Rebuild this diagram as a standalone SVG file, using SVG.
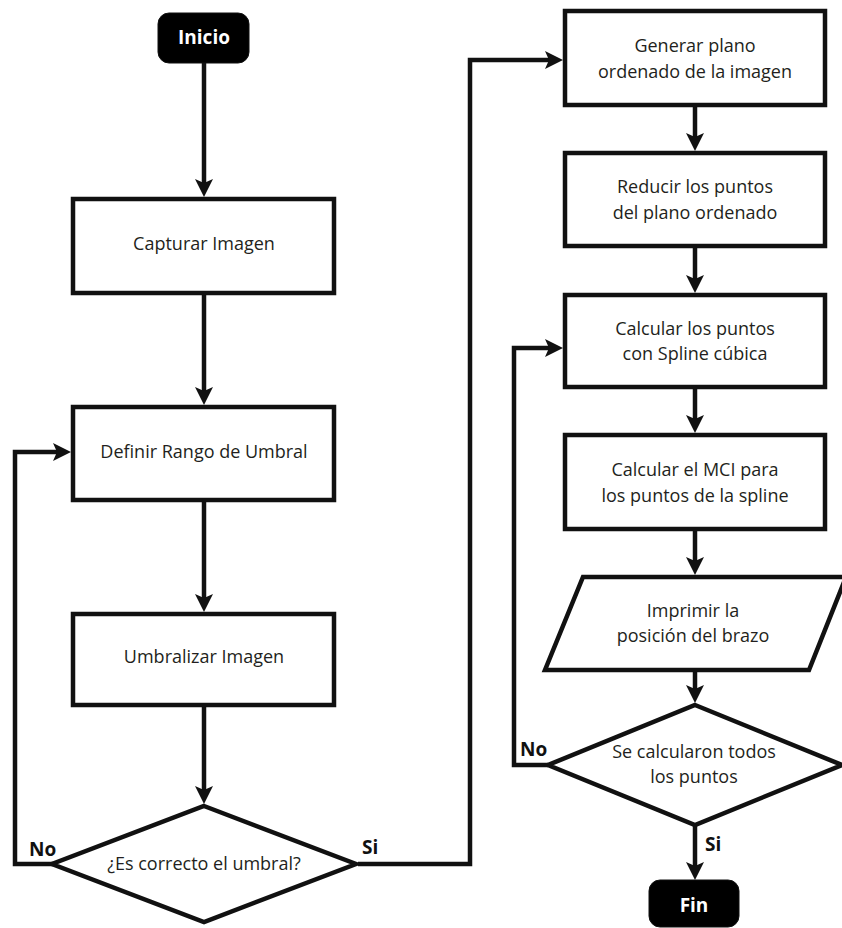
<svg xmlns="http://www.w3.org/2000/svg" width="842" height="928" viewBox="0 0 842 928">
<style>
.box{fill:#fff;stroke:#111;stroke-width:4.5;stroke-linejoin:miter}
.term{fill:#000;stroke:#111;stroke-width:1}
.t{font-family:"Open Sans","Liberation Sans",sans-serif;font-size:18px;fill:#231f20;text-anchor:middle}
.tb{font-family:"Open Sans","Liberation Sans",sans-serif;font-size:19px;font-weight:bold;fill:#fff;text-anchor:middle}
.lb{font-family:"Open Sans","Liberation Sans",sans-serif;font-size:19px;font-weight:bold;fill:#111}
.c{fill:none;stroke:#111;stroke-width:4.5;stroke-linejoin:miter}
</style>
<defs>
<marker id="ah" viewBox="0 0 18 18" refX="10" refY="9" markerWidth="18" markerHeight="18" markerUnits="userSpaceOnUse" orient="auto">
<path d="M0,0 L18,9 L0,18 L4,9 z" fill="#111"/>
</marker>
</defs>
<g id="connectors">
<path class="c" d="M204,63 L204,189" marker-end="url(#ah)"/>
<path class="c" d="M204,295 L204,397" marker-end="url(#ah)"/>
<path class="c" d="M204,502 L204,604" marker-end="url(#ah)"/>
<path class="c" d="M204,707 L204,796" marker-end="url(#ah)"/>
<path class="c" d="M53,864 L15,864 L15,452 L63,452" marker-end="url(#ah)"/>
<path class="c" d="M358,864 L470,864 L470,60 L555,60" marker-end="url(#ah)"/>
<path class="c" d="M695,107 L695,143" marker-end="url(#ah)"/>
<path class="c" d="M695,248 L695,285" marker-end="url(#ah)"/>
<path class="c" d="M695,389 L695,425" marker-end="url(#ah)"/>
<path class="c" d="M695,531 L695,567" marker-end="url(#ah)"/>
<path class="c" d="M695,672 L695,695" marker-end="url(#ah)"/>
<path class="c" d="M548,765 L514,765 L514,348 L555,348" marker-end="url(#ah)"/>
<path class="c" d="M695,826 L695,872" marker-end="url(#ah)"/>
<text class="lb" x="29" y="856">No</text>
<text class="lb" x="362" y="854">Si</text>
<text class="lb" x="520" y="756">No</text>
<text class="lb" x="705" y="851">Si</text>
</g>
<g id="inicio">
<rect class="term" x="158" y="13" width="91" height="50" rx="11"/>
<text class="tb" x="204" y="44">Inicio</text>
</g>
<g id="capturar">
<rect class="box" x="73" y="199" width="261" height="94"/>
<text class="t" x="204" y="250">Capturar Imagen</text>
</g>
<g id="definir">
<rect class="box" x="73" y="407" width="261" height="93"/>
<text class="t" x="204" y="458">Definir Rango de Umbral</text>
</g>
<g id="umbralizar">
<rect class="box" x="73" y="614" width="261" height="91"/>
<text class="t" x="204" y="663">Umbralizar Imagen</text>
</g>
<g id="decision1">
<polygon class="box" points="204,806 356,864 204,922 52,864"/>
<text class="t" x="204" y="870">¿Es correcto el umbral?</text>
</g>
<g id="generar">
<rect class="box" x="565" y="11" width="260" height="94"/>
<text class="t" x="695" y="52">Generar plano</text>
<text class="t" x="695" y="78">ordenado de la imagen</text>
</g>
<g id="reducir">
<rect class="box" x="565" y="153" width="260" height="93"/>
<text class="t" x="695" y="193">Reducir los puntos</text>
<text class="t" x="695" y="219">del plano ordenado</text>
</g>
<g id="spline">
<rect class="box" x="565" y="295" width="260" height="92"/>
<text class="t" x="695" y="335">Calcular los puntos</text>
<text class="t" x="695" y="360">con Spline cúbica</text>
</g>
<g id="mci">
<rect class="box" x="565" y="435" width="260" height="94"/>
<text class="t" x="695" y="476">Calcular el MCI para</text>
<text class="t" x="695" y="502">los puntos de la spline</text>
</g>
<g id="imprimir">
<polygon class="box" points="583,577 846,577 809,670 545,670"/>
<text class="t" x="693" y="617">Imprimir la</text>
<text class="t" x="693" y="642">posición del brazo</text>
</g>
<g id="decision2">
<polygon class="box" points="695,705 842,765 695,825 548,765"/>
<text class="t" x="694" y="758">Se calcularon todos</text>
<text class="t" x="694" y="783">los puntos</text>
</g>
<g id="fin">
<rect class="term" x="649" y="880" width="90" height="47" rx="11"/>
<text class="tb" x="694" y="912">Fin</text>
</g>
</svg>
